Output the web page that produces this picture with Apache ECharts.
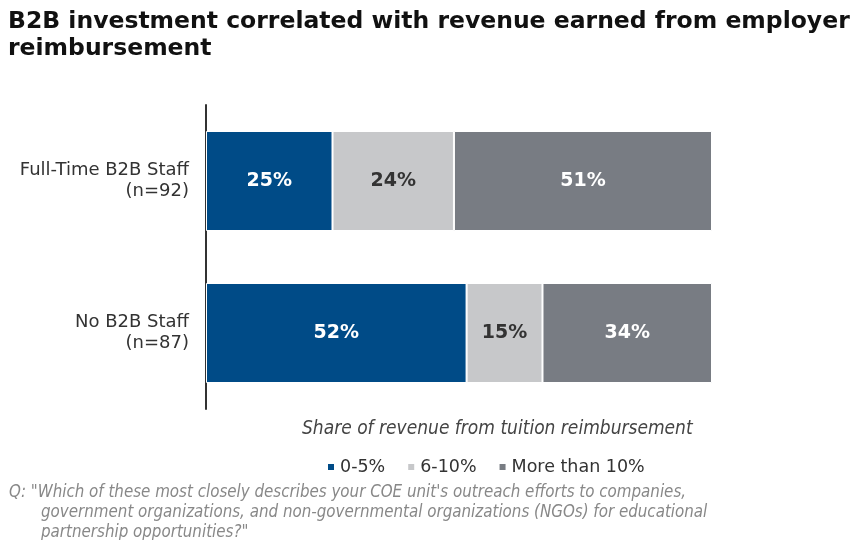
<!DOCTYPE html>
<html>
<head>
<meta charset="utf-8">
<script src="https://cdn.jsdelivr.net/npm/echarts@6/dist/echarts.min.js"></script>
<style>
  html, body { margin: 0; padding: 0; background: #fff; }
  #chart { width: 864px; height: 540px; }
</style>
</head>
<body>
<div id="chart"></div>
<script>
// groups, top to bottom
const groups = ["Full-Time B2B Staff\n(n=92)", "No B2B Staff\n(n=87)"];
const seriesNames = ["0-5%", "6-10%", "More than 10%"];
// shares (labels round them)
const low = [25, 51.5];
const mid = [24, 15];
const high = [51, 33.5];
const colors = ["#004b87", "#c7c8ca", "#787c83"];
const labelColors = ["#fff", "#333", "#fff"];

const chart = echarts.init(document.getElementById("chart"));

const makeSeries = (name, values, i) => ({
  name: name,
  type: "bar",
  stack: "total",
  barWidth: 100,
  data: values,
  itemStyle: { color: colors[i], borderColor: "#fff", borderWidth: 1 },
  label: {
    show: true,
    position: "inside",
    color: labelColors[i],
    fontFamily: "DejaVu Sans",
    fontWeight: "bold",
    fontSize: 19,
    formatter: (p) => Math.round(p.value) + "%",
  },
});

chart.setOption({
  animation: false,
  textStyle: { fontFamily: "DejaVu Sans" },
  title: [
    {
      text: "B2B investment correlated with revenue earned from employer\nreimbursement",
      left: 3,
      top: 3,
      textStyle: { fontFamily: "DejaVu Sans", fontWeight: "bold", fontSize: 23.5, lineHeight: 27, color: "#111" },
    },
    {
      text: "Share of revenue from tuition reimbursement",
      left: 297,
      top: 415,
      textStyle: { fontFamily: "DejaVu Sans Condensed", fontStyle: "italic", fontWeight: "normal", fontSize: 19, color: "#444" },
    },
    {
      text: "Q: \"Which of these most closely describes your COE unit's outreach efforts to companies,",
      left: 4,
      top: 479,
      textStyle: { fontFamily: "DejaVu Sans Condensed", fontStyle: "italic", fontWeight: "normal", fontSize: 16.8, color: "#888" },
    },
    {
      text: "government organizations, and non-governmental organizations (NGOs) for educational\npartnership opportunities?\"",
      left: 36,
      top: 498,
      textStyle: { fontFamily: "DejaVu Sans Condensed", fontStyle: "italic", fontWeight: "normal", fontSize: 16.8, lineHeight: 19.5, color: "#888" },
    },
  ],
  legend: {
    data: seriesNames,
    left: 321,
    top: 453,
    icon: "rect",
    itemWidth: 8,
    itemHeight: 8,
    itemGap: 21,
    textStyle: { fontFamily: "DejaVu Sans", fontSize: 17.5, color: "#333", padding: [0, 0, 0, 0] },
  },
  grid: { left: 206, right: 152, top: 105, bottom: 131 },
  xAxis: {
    type: "value",
    min: 0,
    max: 100,
    show: false,
  },
  yAxis: {
    type: "category",
    inverse: true,
    data: groups,
    axisLine: { show: true, lineStyle: { color: "#333", width: 2 } },
    axisTick: { show: false },
    axisLabel: { margin: 17, fontFamily: "DejaVu Sans", fontSize: 18, lineHeight: 21, color: "#333", align: "right" },
  },
  series: [
    makeSeries(seriesNames[0], low, 0),
    makeSeries(seriesNames[1], mid, 1),
    makeSeries(seriesNames[2], high, 2),
  ],
});
</script>
</body>
</html>
